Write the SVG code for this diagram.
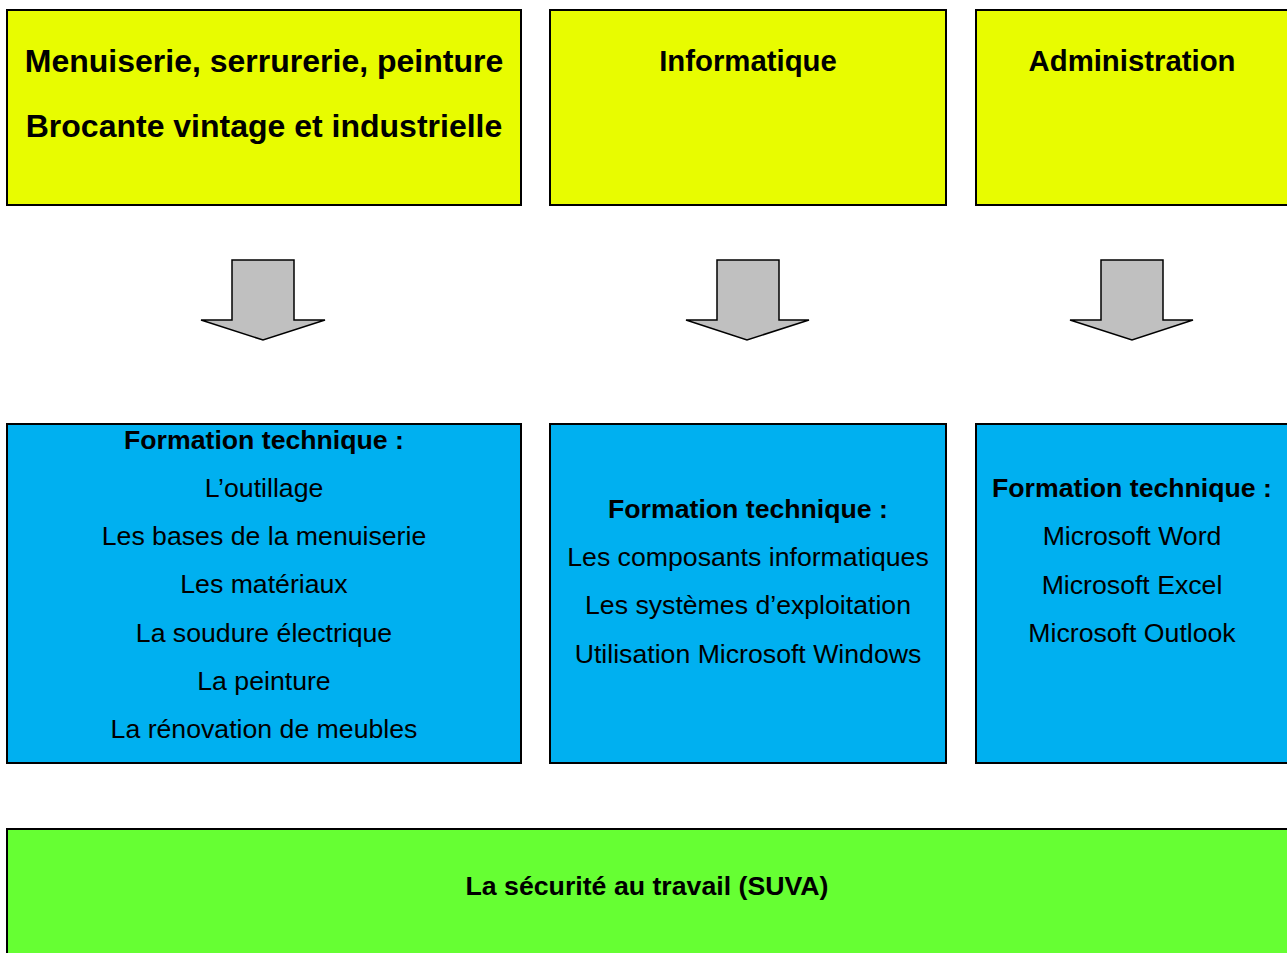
<svg xmlns="http://www.w3.org/2000/svg" width="1287" height="953" viewBox="0 0 1287 953">
<style>
.box{stroke:#000;stroke-width:2}
.y{fill:#E8FC00}
.b{fill:#00B0F0}
.g{fill:#66FF33}
.t{font-family:"Liberation Sans",Arial,sans-serif;fill:#000;text-anchor:middle}
.h{font-size:32px;font-weight:bold}
.h2{font-size:29.33px;font-weight:bold}
.s{font-size:26.67px;font-weight:bold}
.n{font-size:26.67px}
.arrow{fill:#C0C0C0;stroke:#000;stroke-width:1.5;stroke-linejoin:miter}
</style>
<rect width="1287" height="953" fill="#fff"/>
<g id="node-menuiserie">
<rect class="box y" x="7" y="10" width="514" height="195"/>
<text class="t h" x="264" y="72">Menuiserie, serrurerie, peinture</text>
<text class="t h" x="264" y="137">Brocante vintage et industrielle</text>
</g>
<g id="node-informatique">
<rect class="box y" x="550" y="10" width="396" height="195"/>
<text class="t h2" x="748" y="71">Informatique</text>
</g>
<g id="node-administration">
<rect class="box y" x="976" y="10" width="320" height="195"/>
<text class="t h2" x="1132" y="71">Administration</text>
</g>
<g id="connectors">
<path class="arrow" d="M232,260 H294 V320 H325 L263,340 L201,320 H232 Z"/>
<path class="arrow" d="M717,260 H779 V320 H809 L747,340 L686,320 H717 Z"/>
<path class="arrow" d="M1101,260 H1163 V320 H1193 L1132,340 L1070,320 H1101 Z"/>
</g>
<g id="node-formation-menuiserie">
<rect class="box b" x="7" y="424" width="514" height="339"/>
<text class="t s" x="264" y="449">Formation technique :</text>
<text class="t n" x="264" y="497">L’outillage</text>
<text class="t n" x="264" y="545">Les bases de la menuiserie</text>
<text class="t n" x="264" y="593">Les matériaux</text>
<text class="t n" x="264" y="642">La soudure électrique</text>
<text class="t n" x="264" y="690">La peinture</text>
<text class="t n" x="264" y="738">La rénovation de meubles</text>
</g>
<g id="node-formation-informatique">
<rect class="box b" x="550" y="424" width="396" height="339"/>
<text class="t s" x="748" y="518">Formation technique :</text>
<text class="t n" x="748" y="566">Les composants informatiques</text>
<text class="t n" x="748" y="614">Les systèmes d’exploitation</text>
<text class="t n" x="748" y="663">Utilisation Microsoft Windows</text>
</g>
<g id="node-formation-administration">
<rect class="box b" x="976" y="424" width="320" height="339"/>
<text class="t s" x="1132" y="497">Formation technique :</text>
<text class="t n" x="1132" y="545">Microsoft Word</text>
<text class="t n" x="1132" y="594">Microsoft Excel</text>
<text class="t n" x="1132" y="642">Microsoft Outlook</text>
</g>
<g id="node-securite">
<rect class="box g" x="7" y="829" width="1300" height="140"/>
<text class="t s" x="647" y="895" textLength="363" lengthAdjust="spacingAndGlyphs">La sécurité au travail (SUVA)</text>
</g>
</svg>
